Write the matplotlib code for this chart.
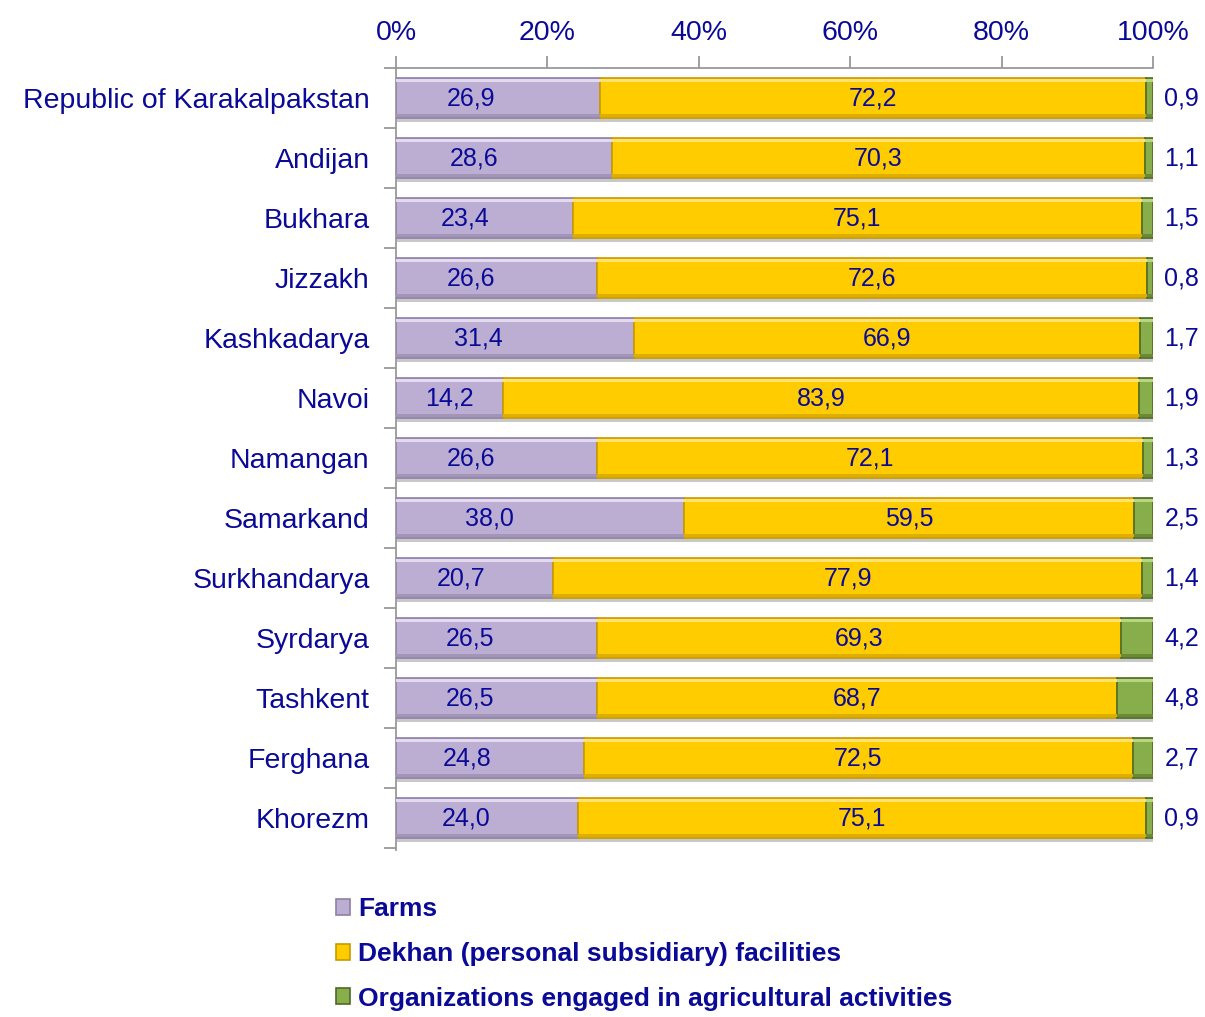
import matplotlib.pyplot as plt
import numpy as np

plt.rcParams['font.family'] = ['Liberation Sans', 'DejaVu Sans']

regions = ['Republic of Karakalpakstan', 'Andijan', 'Bukhara', 'Jizzakh', 'Kashkadarya',
           'Navoi', 'Namangan', 'Samarkand', 'Surkhandarya', 'Syrdarya', 'Tashkent',
           'Ferghana', 'Khorezm']
farms = [26.9, 28.6, 23.4, 26.6, 31.4, 14.2, 26.6, 38.0, 20.7, 26.5, 26.5, 24.8, 24.0]
dekhan = [72.2, 70.3, 75.1, 72.6, 66.9, 83.9, 72.1, 59.5, 77.9, 69.3, 68.7, 72.5, 75.1]
orgs = [0.9, 1.1, 1.5, 0.8, 1.7, 1.9, 1.3, 2.5, 1.4, 4.2, 4.8, 2.7, 0.9]
series_names = ['Farms', 'Dekhan (personal subsidiary) facilities',
                'Organizations engaged in agricultural activities']

navy = '#0A0A96'

def fmt(v):
    return ('%.1f' % v).replace('.', ',')

fig = plt.figure(figsize=(12.05, 10.17), dpi=100)
ax = fig.add_axes([0.3286, 0.1642, 0.9568 - 0.3286, 0.9331 - 0.1642])

y = np.arange(len(regions))
h = 0.67
strip = 0.05
left = np.zeros(len(regions))
# face, edge, highlight, lowlight
styles = [('#BBAED2', '#8E80A6', '#E4DAF0', '#A395B8'),
          ('#FFCC00', '#C99A00', '#FFE271', '#DEAE00'),
          ('#88AE4C', '#4F6A22', '#B7D681', '#6A8A35')]
vals = [farms, dekhan, orgs]
bars = []

# soft shadow under the bars
ax.barh(y + 0.06, 100, height=h, left=0.2, color='#C8C8C8', zorder=1)

for v, (fc, ec, hi, lo), name in zip(vals, styles, series_names):
    b = ax.barh(y, v, left=left, height=h, color=fc, edgecolor=ec, linewidth=1.2,
                label=name, zorder=3)
    ax.barh(y - h / 2 + strip / 2 + 0.02, v, left=left, height=strip, color=hi,
            linewidth=0, zorder=4)
    ax.barh(y + h / 2 - strip / 2 - 0.02, v, left=left, height=strip, color=lo,
            linewidth=0, zorder=4)
    bars.append(b)
    left = left + np.array(v)

for i in range(len(regions)):
    ax.text(4 + 0.22 * farms[i], i, fmt(farms[i]), ha='center', va='center',
            fontsize=18, color=navy, zorder=5)
    ax.text(farms[i] + dekhan[i] / 2, i, fmt(dekhan[i]), ha='center', va='center',
            fontsize=18, color=navy, zorder=5)
    ax.text(101.5, i, fmt(orgs[i]), ha='left', va='center',
            fontsize=18, color=navy, zorder=5)

ax.set_xlim(0, 100)
ax.set_ylim(12.53, -0.48)
ax.xaxis.tick_top()
ax.set_xticks(range(0, 101, 20))
ax.set_xticklabels(['%d%%' % t for t in range(0, 101, 20)], fontsize=20.5, color=navy)
ax.tick_params(axis='x', direction='out', length=9, color='#999999', width=1.3, pad=7)
ax.set_yticks(y)
ax.set_yticklabels(regions, fontsize=20.5, color=navy)
ax.set_yticks(np.arange(-0.5, 12.6, 1), minor=True)
ax.tick_params(axis='y', which='major', length=0, pad=19)
ax.tick_params(axis='y', which='minor', direction='out', length=9, color='#999999', width=1.3)
for s in ['right', 'bottom']:
    ax.spines[s].set_visible(False)
for s in ['top', 'left']:
    ax.spines[s].set_color('#999999')
    ax.spines[s].set_linewidth(1.3)

leg = fig.legend(handles=bars, labels=series_names, loc='upper left',
                 bbox_to_anchor=(0.259, 0.141), frameon=False, ncol=1,
                 prop={'weight': 'bold', 'size': 19}, labelspacing=0.78,
                 handlelength=0.55, handleheight=0.55, handletextpad=0.3)
for t in leg.get_texts():
    t.set_color(navy)

fig.savefig('out.png', dpi=100)
